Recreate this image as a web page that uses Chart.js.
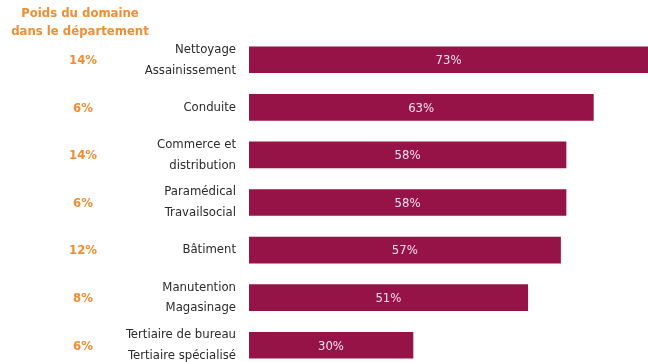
<!DOCTYPE html>
<html>
<head>
<meta charset="utf-8">
<script src="https://cdn.jsdelivr.net/npm/chart.js@4.4.1/dist/chart.umd.min.js"></script>
<style>
  html, body { margin: 0; padding: 0; background: #fff; overflow: hidden; }
  #wrap { position: relative; width: 648px; height: 369px; }
</style>
</head>
<body>
<div id="wrap"><canvas id="chart"></canvas></div>
<script>
// domaines
const categories = [
    ['Nettoyage', 'Assainissement'],
    'Conduite',
    ['Commerce et', 'distribution'],
    ['Paramédical', 'Travailsocial'],
    'Bâtiment',
    ['Manutention', 'Magasinage'],
    ['Tertiaire de bureau', 'Tertiaire spécialisé']
];
// valeurs des barres (%)
const valeurs = [73, 63, 58, 58, 57, 51, 30];
// poids du domaine dans le département (%)
const poids = [14, 6, 14, 6, 12, 8, 6];
const titrePoids = ['Poids du domaine', 'dans le département'];

const police = '"DejaVu Sans Condensed", "DejaVu Sans", sans-serif';
const orange = '#f28c30';

// texte des valeurs dans les barres + colonne des poids
const etiquettes = {
    id: 'etiquettes',
    afterDatasetsDraw(chart) {
        const ctx = chart.ctx;
        const meta = chart.getDatasetMeta(0);
        const yScale = chart.scales.y;
        ctx.save();
        ctx.textBaseline = 'middle';
        ctx.textAlign = 'center';

        ctx.font = '13px ' + police;
        ctx.fillStyle = '#f3e3ea';
        meta.data.forEach((bar, i) => {
            const p = bar.getProps(['x', 'y', 'base'], true);
            ctx.fillText(valeurs[i] + '%', (p.x + p.base) / 2, p.y + 1);
        });

        ctx.font = 'bold 13px ' + police;
        ctx.fillStyle = orange;
        poids.forEach((v, i) => {
            ctx.fillText(v + '%', 83, yScale.getPixelForValue(i) + 1);
        });

        ctx.fillText(titrePoids[0], 80, 14);
        ctx.fillText(titrePoids[1], 80, 32);
        ctx.restore();
    }
};

new Chart(document.getElementById('chart'), {
    type: 'bar',
    data: {
        labels: categories,
        datasets: [{
            data: valeurs,
            backgroundColor: '#951347',
            barThickness: 26
        }]
    },
    options: {
        indexAxis: 'y',
        responsive: true,
        maintainAspectRatio: false,
        animation: false,
        layout: { padding: { top: 36, right: 0, bottom: 0, left: 0 } },
        scales: {
            x: {
                display: false,
                min: 0,
                max: 73
            },
            y: {
                afterFit: function(scale) {
                    scale.width = 249;
                    scale.paddingTop = 0;
                    scale.paddingBottom = 0;
                },
                grid: { display: false, drawTicks: false },
                border: { display: false },
                ticks: {
                    padding: 13,
                    color: '#2b2b2b',
                    font: { family: police, size: 13, lineHeight: 1.6 }
                }
            }
        },
        plugins: {
            legend: { display: false },
            tooltip: { enabled: false }
        }
    },
    plugins: [etiquettes]
});
</script>
</body>
</html>
